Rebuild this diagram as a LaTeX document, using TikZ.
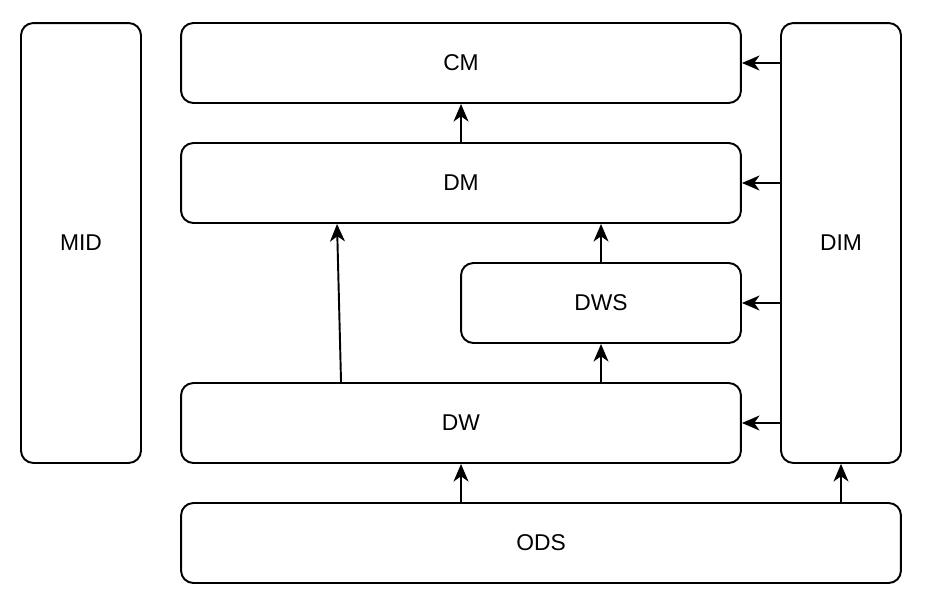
\documentclass[tikz,border=0pt]{standalone}
\usepackage{fontspec}
\setmainfont{Liberation Sans}
\usetikzlibrary{arrows.meta}

\tikzset{
  layer/.style={draw, line width=1.1pt, rounded corners=7pt, inner sep=0pt, font=\fontsize{13}{15}\selectfont},
  flow/.style={-{Stealth[length=10pt,width=8.5pt,inset=3pt]}, line width=1.1pt}
}

\begin{document}
\begin{tikzpicture}[x=0.02cm, y=-0.02cm]
  \useasboundingbox (0,0) rectangle (928,602);
  % side columns
  \node[layer, minimum width=2.4cm, minimum height=8.8cm] (mid) at (81,243) {MID};
  \node[layer, minimum width=2.4cm, minimum height=8.8cm] (dim) at (841,243) {DIM};
  % layers
  \node[layer, minimum width=11.2cm, minimum height=1.6cm] (cm) at (461,63) {CM};
  \node[layer, minimum width=11.2cm, minimum height=1.6cm] (dm) at (461,183) {DM};
  \node[layer, minimum width=5.6cm, minimum height=1.6cm] (dws) at (601,303) {DWS};
  \node[layer, minimum width=11.2cm, minimum height=1.6cm] (dw) at (461,423) {DW};
  \node[layer, minimum width=14.4cm, minimum height=1.6cm] (ods) at (541,543) {ODS};
  % upward flow
  \draw[flow] (dm.north) -- (cm.south);
  \draw[flow] (dws.north) -- (dws.north |- dm.south);
  \draw[flow] (dw.north -| dws.north) -- (dws.south);
  \draw[flow] ([xshift=-2.4cm]dw.north) -- ([xshift=-2.48cm]dm.south);
  \draw[flow] (ods.north -| dw.north) -- (dw.south);
  \draw[flow] (ods.north -| dim.south) -- (dim.south);
  % DIM feeds every layer
  \draw[flow] (dim.west |- cm.east) -- (cm.east);
  \draw[flow] (dim.west |- dm.east) -- (dm.east);
  \draw[flow] (dim.west |- dws.east) -- (dws.east);
  \draw[flow] (dim.west |- dw.east) -- (dw.east);
\end{tikzpicture}
\end{document}
